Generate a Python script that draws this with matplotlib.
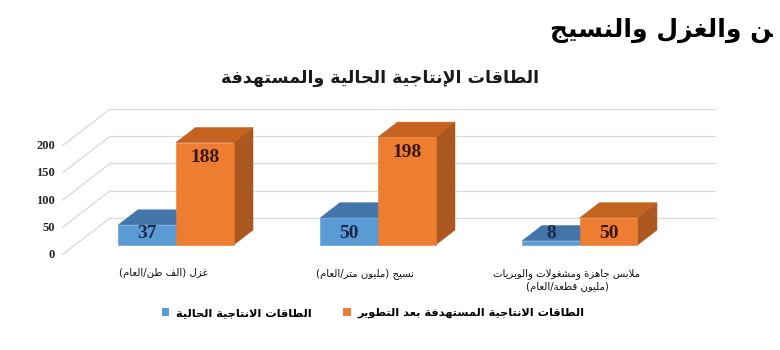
import matplotlib
matplotlib.use('Agg')
import matplotlib.pyplot as plt
from matplotlib.patches import Polygon, Patch

# -----------------------------------------------------------------------------
# data
# -----------------------------------------------------------------------------
big_title = 'ـن والغزل والنسيج'   # the left part of the page title is cut off
title = 'الطاقات الإنتاجية الحالية والمستهدفة'
categories = ['غزل (الف طن/العام)',
              'نسيج (مليون متر/العام)',
              'ملابس جاهزة ومشغولات والوبريات\n(مليون قطعة/العام)']
current = [37, 50, 8]
target = [188, 198, 50]
series_names = ['الطاقات الانتاجية الحالية',
                'الطاقات الانتاجية المستهدفة بعد التطوير']
yticks = [0, 50, 100, 150, 200]

# -----------------------------------------------------------------------------
# minimal arabic shaping (matplotlib has no bidi / joining support)
# -----------------------------------------------------------------------------
FORMS = {
    '\u0621': (0xFE80, 1),
    '\u0622': (0xFE81, 2), '\u0623': (0xFE83, 2), '\u0624': (0xFE85, 2),
    '\u0625': (0xFE87, 2), '\u0626': (0xFE89, 4), '\u0627': (0xFE8D, 2),
    '\u0628': (0xFE8F, 4), '\u0629': (0xFE93, 2), '\u062A': (0xFE95, 4),
    '\u062B': (0xFE99, 4), '\u062C': (0xFE9D, 4), '\u062D': (0xFEA1, 4),
    '\u062E': (0xFEA5, 4), '\u062F': (0xFEA9, 2), '\u0630': (0xFEAB, 2),
    '\u0631': (0xFEAD, 2), '\u0632': (0xFEAF, 2), '\u0633': (0xFEB1, 4),
    '\u0634': (0xFEB5, 4), '\u0635': (0xFEB9, 4), '\u0636': (0xFEBD, 4),
    '\u0637': (0xFEC1, 4), '\u0638': (0xFEC5, 4), '\u0639': (0xFEC9, 4),
    '\u063A': (0xFECD, 4), '\u0641': (0xFED1, 4), '\u0642': (0xFED5, 4),
    '\u0643': (0xFED9, 4), '\u0644': (0xFEDD, 4), '\u0645': (0xFEE1, 4),
    '\u0646': (0xFEE5, 4), '\u0647': (0xFEE9, 4), '\u0648': (0xFEED, 2),
    '\u0649': (0xFEEF, 2), '\u064A': (0xFEF1, 4),
}
LAM_ALEF = {'\u0622': 0xFEF5, '\u0623': 0xFEF7, '\u0625': 0xFEF9, '\u0627': 0xFEFB}
TATWEEL = '\u0640'


def _joins_next(ch):
    return ch == TATWEEL or FORMS.get(ch, (0, 0))[1] == 4


def _joinable(ch):
    return ch == TATWEEL or ch in FORMS


def shape_line(text):
    out = []
    i, n = 0, len(text)
    while i < n:
        ch = text[i]
        link_prev = i > 0 and _joins_next(text[i - 1]) and _joinable(ch)
        if ch == '\u0644' and i + 1 < n and text[i + 1] in LAM_ALEF:
            out.append(chr(LAM_ALEF[text[i + 1]] + (1 if link_prev else 0)))
            i += 2
            continue
        if ch in FORMS:
            base, nf = FORMS[ch]
            nxt = text[i + 1] if i + 1 < n else ''
            link_next = nf == 4 and _joinable(nxt)
            if nf == 1:
                form = 0
            elif link_prev and link_next:
                form = 3
            elif link_prev:
                form = 1
            elif link_next:
                form = 2
            else:
                form = 0
            out.append(chr(base + form))
        elif ch != TATWEEL:
            out.append(ch)
        i += 1
    vis = ''.join(reversed(out))
    return vis.translate(str.maketrans('()', ')('))


def shape(text):
    return '\n'.join(shape_line(line) for line in text.split('\n'))


# -----------------------------------------------------------------------------
# figure
# -----------------------------------------------------------------------------
plt.rcParams['font.family'] = ['DejaVu Sans']

BLUE = dict(front='#5b9bd5', top='#4475aa', side='#3d6a99', text='#1c2a48')
ORANGE = dict(front='#ed7d31', top='#c4621f', side='#aa5720', text='#3a170a')

# oblique "3d" projection: full depth shifts x by DX and y by DY (data units)
DX, DY = 0.238, 68.0
ZF, ZB = 0.27, 0.675       # front / back of the bars
BAR_W = 0.285


def proj(x, y, z):
    return (x + z * DX, y + z * DY)


def draw_box(ax, x0, x1, v, col):
    side = [proj(x1, 0, ZF), proj(x1, v, ZF), proj(x1, v, ZB), proj(x1, 0, ZB)]
    top = [proj(x0, v, ZF), proj(x1, v, ZF), proj(x1, v, ZB), proj(x0, v, ZB)]
    front = [proj(x0, 0, ZF), proj(x1, 0, ZF), proj(x1, v, ZF), proj(x0, v, ZF)]
    for pts, c in ((side, col['side']), (top, col['top']), (front, col['front'])):
        ax.add_patch(Polygon(pts, closed=True, facecolor=c, edgecolor=c,
                             lw=0.4, zorder=3))


fig = plt.figure(figsize=(7.8, 3.5), dpi=100)
fig.patch.set_facecolor('white')
ax = fig.add_axes([62 / 780, 95 / 350, 654 / 780, 146 / 350])
ax.set_xlim(-0.5, 2.5 + DX)
ax.set_ylim(0, 200 + DY)
ax.axis('off')

# back wall gridlines, side wall diagonals and the value axis labels
for v in yticks:
    ax.plot([-0.5 + DX, 2.5 + DX], [v + DY, v + DY], color='#d9d9d9', lw=0.9, zorder=1)
    ax.plot([-0.5, -0.5 + DX], [v, v + DY], color='#d9d9d9', lw=0.9, zorder=1)
    ax.annotate(str(v), (-0.5, v), xytext=(-5, 0), textcoords='offset points',
                ha='right', va='center', fontfamily='Liberation Serif',
                fontweight='bold', fontsize=9, color='#262626')

for i, (a, b) in enumerate(zip(current, target)):
    draw_box(ax, i - BAR_W, i, a, BLUE)
    draw_box(ax, i, i + BAR_W, b, ORANGE)
    for xc, v, col in ((i - BAR_W / 2, a, BLUE), (i + BAR_W / 2, b, ORANGE)):
        x, y = proj(xc, max(v - 28, 22), ZF)
        ax.text(x, y, str(v), ha='center', va='center', zorder=5,
                fontfamily='Liberation Serif', fontweight='bold',
                fontsize=14, color=col['text'])
    ax.text(i, -24, shape(categories[i]), ha='center', va='top',
            fontsize=7.3, linespacing=1.4, color='#111111', clip_on=False)

fig.text(0.99, 1 - 30 / 350, shape(big_title), ha='right', va='center',
         fontsize=18, fontweight='bold', color='black')
fig.text(380 / 780, 1 - 78 / 350, shape(title), ha='center', va='center',
         fontsize=12.5, fontweight='bold', color='#1a1a1a')

handles = [Patch(facecolor=BLUE['front']), Patch(facecolor=ORANGE['front'])]
fig.legend(handles, [shape(s) for s in series_names], ncol=2, loc='center',
           bbox_to_anchor=(373 / 780, 1 - 313 / 350), frameon=False,
           handlelength=0.7, handleheight=0.7, handletextpad=0.6,
           columnspacing=2.7, prop=dict(weight='bold', size=8.2))

fig.savefig('out.png', dpi=100, facecolor='white')
